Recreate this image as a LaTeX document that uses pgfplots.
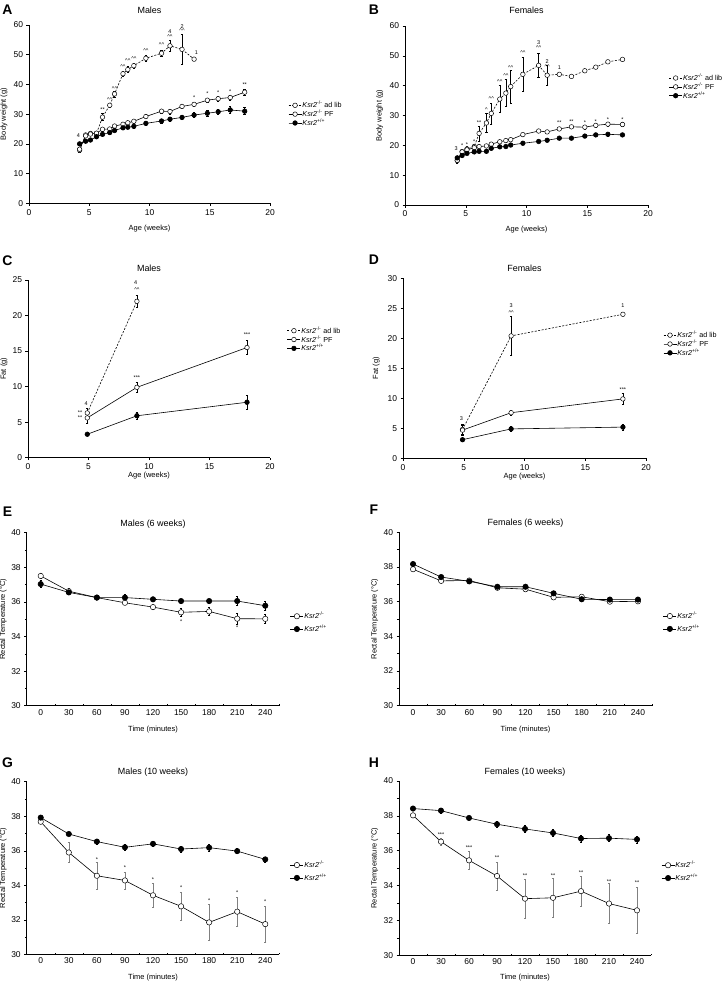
\documentclass[border=0pt]{standalone}
\usepackage{fontspec}
\setmainfont{Liberation Sans}
\usepackage{pgfplots}
\pgfplotsset{compat=1.18}

\newcommand{\ko}{\textit{Ksr2}\textsuperscript{-/-}}
\newcommand{\wt}{\textit{Ksr2}\textsuperscript{+/+}}
\newcommand{\cc}{\textasciicircum\textasciicircum}
\newcommand{\an}[3]{\node[font=\fontsize{5.5}{5.5}\selectfont, inner sep=0pt] at (axis cs:#1,#2) {#3};}

\pgfplotsset{
 panel/.style={scale only axis, axis lines=left, axis line style={-, line width=0.6pt}, clip=false,
   tick style={black, line width=0.5pt}, tick align=outside, major tick length=2.5bp, minor tick length=1.6bp,
   ticklabel style={font=\fontsize{8.5}{9}\selectfont}, /pgf/number format/assume math mode=true,
   label style={font=\fontsize{7.5}{8}\selectfont},
   title style={font=\fontsize{9}{10}\selectfont, at={(0.5,1)}, anchor=base},
   legend style={draw=none, fill=none, font=\fontsize{7.2}{8}\selectfont, inner sep=0pt, row sep=-0.5bp,
     nodes={inner sep=0.6bp}, cells={anchor=west}, anchor=west},
   legend cell align=left,
   legend image code/.code={\draw[mark repeat=2,mark phase=2,##1] plot coordinates {(0bp,0bp) (6.5bp,0bp) (13bp,0bp)};},
   error bars/error bar style={line width=0.5pt, black, solid},
   error bars/error mark options={rotate=90, mark size=1.2bp, line width=0.5pt, solid},
 },
 wpanel/.style={panel, xmin=0, xmax=20, xtick={0,5,...,20}, ymin=0},
 tpanel/.style={panel, xmin=-15, xmax=255, ymin=30, ymax=40,
   xtick={0,30,...,240}, major x tick style={draw=none}, minor xtick={15,45,...,255}, xtick align=inside,
   ytick={30,32,...,40}, minor ytick={31,33,...,39},
   legend style={row sep=3.5bp}},
 adlib/.style={black, line width=0.6pt, dash pattern=on 2bp off 1.5bp, mark=*, mark size=2.3bp, mark options={solid, fill=white, line width=0.5pt}},
 pf/.style={black, line width=0.6pt, solid, mark=*, mark size=2.3bp, mark options={solid, fill=white, line width=0.5pt}},
 wt/.style={black, line width=0.6pt, solid, mark=*, mark size=2.3bp, mark options={solid, fill=black}},
 tko/.style={pf, mark size=2.7bp},
 twt/.style={wt, mark size=2.7bp},
 eb/.style={error bars/.cd, y dir=both, y explicit},
}

\begin{document}
\begin{tikzpicture}
\useasboundingbox (0,0) rectangle (726bp,-983bp);

\tikzset{plab/.style={font=\bfseries\fontsize{14}{14}\selectfont, inner sep=0pt}}
\node[plab] at (7.5bp,-9.5bp) {A};
\node[plab] at (374bp,-9.5bp) {B};
\node[plab] at (7.5bp,-261bp) {C};
\node[plab] at (374bp,-260bp) {D};
\node[plab] at (7.5bp,-511.5bp) {E};
\node[plab] at (374bp,-510bp) {F};
\node[plab] at (7.5bp,-762.5bp) {G};
\node[plab] at (374bp,-762.5bp) {H};

% ---------------- A
\begin{axis}[wpanel, at={(29bp,-203.3bp)}, anchor=south west, width=241bp, height=178.3bp,
  ymax=60, ytick={0,10,...,60}, title={Males}, title style={yshift=6bp},
  xlabel={Age (weeks)}, ylabel={Body weight (g)},
  xlabel style={at={(axis description cs:0.5,-0.14)}, anchor=center},
  ylabel style={at={(axis description cs:-0.104,0.5)}, anchor=center},
  legend style={at={(1.075,0.5)}}]
\addplot[adlib, eb] table[x=x, y=y, y error=e] {
x y e
4.2 17.9 0.8
4.7 23.0 0.5
5.1 23.5 0.5
5.6 23.5 0.5
6.1 29.0 1.2
6.7 33.0 0.8
7.1 36.8 1.0
7.8 43.6 1.0
8.2 45.0 1.0
8.7 46.3 0.8
9.7 48.8 1.0
11.0 50.5 1.0
11.7 53.0 1.8
12.7 51.8 5.0
13.7 48.5 0
};
\addplot[pf, eb] table[x=x, y=y, y error=e] {
x y e
4.2 18.2 0.8
4.7 22.7 0.5
5.1 23.3 0.5
5.6 23.6 0.5
6.1 24.9 0.5
6.7 25.0 0.5
7.1 26.0 0.5
7.8 26.6 0.5
8.2 27.1 0.5
8.7 27.6 0.6
9.7 29.2 0.6
11.0 31.0 0.8
11.7 30.9 0.8
12.7 32.6 0.6
13.7 33.3 0.8
14.8 34.7 0.8
15.7 35.2 0.9
16.7 35.6 0.8
17.9 37.4 0.9
};
\addplot[wt, eb] table[x=x, y=y, y error=e] {
x y e
4.2 20.0 0.6
4.7 20.9 0.5
5.1 21.3 0.4
5.6 22.4 0.4
6.1 23.2 0.4
6.7 23.8 0.4
7.1 24.5 0.4
7.8 25.4 0.4
8.2 25.6 0.4
8.7 25.9 0.5
9.7 26.9 0.6
11.0 27.7 0.6
11.7 28.3 0.6
12.7 28.9 0.7
13.7 29.7 0.8
14.8 30.3 0.9
15.7 30.8 1.0
16.7 31.4 1.1
17.9 31.0 1.2
};
\legend{\ko\ ad lib, \ko\ PF, \wt}
\an{4.1}{22.8}{4}
\an{6.1}{31.5}{**}
\an{6.7}{35}{\cc}
\an{7.1}{38.6}{\cc}
\an{7.8}{46}{\cc}
\an{8.2}{47.9}{\cc}
\an{8.7}{48.7}{\cc}
\an{9.7}{51.4}{\cc}
\an{11.0}{53.3}{\cc}
\an{11.7}{56.1}{\cc}
\an{11.7}{57.7}{4}
\an{12.7}{58.0}{\cc}
\an{12.7}{59.6}{2}
\an{13.9}{50.6}{1}
\an{13.7}{35.5}{*}
\an{14.8}{36.9}{*}
\an{15.7}{37.4}{*}
\an{16.7}{37.7}{*}
\an{17.9}{39.8}{**}
\end{axis}

% ---------------- B
\begin{axis}[wpanel, at={(405bp,-205bp)}, anchor=south west, width=243bp, height=179bp,
  ymax=60, ytick={0,10,...,60}, title={Females}, title style={yshift=7bp},
  xlabel={Age (weeks)}, ylabel={Body weight (g)},
  xlabel style={at={(axis description cs:0.5,-0.14)}, anchor=center},
  ylabel style={at={(axis description cs:-0.104,0.5)}, anchor=center},
  legend style={at={(1.085,0.66)}}]
\addplot[adlib, eb] table[x=x, y=y, y error=e] {
x y e
4.3 14.9 0.8
4.7 17.9 0.8
5.1 18.8 0.8
5.7 19.6 0.8
6.1 24.0 2.5
6.7 27.5 3.2
7.1 30.7 3.5
7.8 35.5 4.5
8.3 37.5 4.5
8.7 39.7 5.5
9.7 43.8 5.8
11.0 46.8 4.0
11.7 43.5 3.3
12.7 43.8 0
13.7 43.1 0
14.8 45.0 0
15.7 46.2 0
16.7 48.0 0
17.9 48.8 0
};
\addplot[pf, eb] table[x=x, y=y, y error=e] {
x y e
4.3 15.0 0.8
4.7 17.8 0.5
5.1 18.5 0.5
5.7 19.2 0.5
6.1 19.6 0.5
6.7 19.8 0.5
7.1 20.4 0.5
7.8 21.2 0.5
8.3 21.6 0.5
8.7 21.9 0.5
9.7 23.6 0.5
11.0 24.8 0.5
11.7 24.5 0.5
12.7 25.5 0.5
13.7 26.2 0.6
14.8 26.1 0.7
15.7 26.7 0.7
16.7 27.1 0.6
17.9 27.0 0.6
};
\addplot[wt, eb] table[x=x, y=y, y error=e] {
x y e
4.3 15.8 0.6
4.7 16.6 0.5
5.1 17.3 0.4
5.7 17.8 0.4
6.1 18.0 0.4
6.7 18.0 0.4
7.1 19.0 0.4
7.8 19.5 0.4
8.3 19.6 0.4
8.7 20.1 0.4
9.7 20.7 0.4
11.0 21.3 0.4
11.7 21.7 0.4
12.7 22.4 0.4
13.7 22.4 0.4
14.8 23.1 0.5
15.7 23.5 0.5
16.7 23.7 0.5
17.9 23.5 0.4
};
\legend{\ko\ ad lib, \ko\ PF, \wt}
\an{4.2}{18.8}{3}
\an{4.7}{19.8}{*}
\an{5.1}{20.4}{*}
\an{5.7}{21.2}{*}
\an{6.1}{27.7}{**}
\an{6.7}{32.0}{\textasciicircum}
\an{7.1}{35.8}{\cc}
\an{7.8}{41.5}{\cc}
\an{8.3}{43.4}{\cc}
\an{8.7}{46.2}{\cc}
\an{9.7}{51.0}{\cc}
\an{11.0}{52.6}{\cc}
\an{11.0}{54.4}{3}
\an{11.7}{46.4}{\cc}
\an{11.7}{48.0}{2}
\an{12.7}{46.0}{1}
\an{12.7}{27.5}{**}
\an{13.7}{27.8}{**}
\an{14.8}{27.6}{*}
\an{15.7}{28.1}{*}
\an{16.7}{28.5}{*}
\an{17.9}{28.6}{*}
\end{axis}

% ---------------- C
\begin{axis}[wpanel, at={(28bp,-457.7bp)}, anchor=south west, width=242bp, height=177.7bp,
  ymax=25, ytick={0,5,...,25}, title={Males}, title style={yshift=2.7bp},
  xlabel={Age (weeks)}, ylabel={Fat (g)},
  xlabel style={at={(axis description cs:0.5,-0.1)}, anchor=center},
  ylabel style={at={(axis description cs:-0.099,0.5)}, anchor=center},
  legend style={at={(1.07,0.665)}}]
\addplot[adlib, eb] table[x=x, y=y, y error=e] {
x y e
4.9 6.3 0.6
9.0 22.0 0.9
};
\addplot[pf, eb] table[x=x, y=y, y error=e] {
x y e
4.9 5.6 0.7
9.0 9.9 0.7
18.1 15.5 1.0
};
\addplot[wt, eb] table[x=x, y=y, y error=e] {
x y e
4.9 3.3 0.2
9.0 5.9 0.5
18.1 7.8 1.0
};
\legend{\ko\ ad lib, \ko\ PF, \wt}
\an{8.9}{24.6}{4}
\an{9.0}{23.7}{\cc}
\an{9.0}{11.3}{***}
\an{18.1}{17.3}{***}
\an{4.8}{7.6}{4}
\an{4.3}{6.3}{**}
\an{4.3}{5.6}{**}
\end{axis}

% ---------------- D
\begin{axis}[wpanel, at={(403bp,-458.3bp)}, anchor=south west, width=243bp, height=180bp,
  ymax=30, ytick={0,5,...,30}, title={Females}, title style={yshift=1.3bp},
  xlabel={Age (weeks)}, ylabel={Fat (g)},
  xlabel style={at={(axis description cs:0.5,-0.1)}, anchor=center},
  ylabel style={at={(axis description cs:-0.11,0.5)}, anchor=center},
  legend style={at={(1.07,0.635)}}]
\addplot[adlib, eb] table[x=x, y=y, y error=e] {
x y e
4.9 4.8 0.8
8.9 20.4 3.3
18.1 24.0 0
};
\addplot[pf, eb] table[x=x, y=y, y error=e] {
x y e
4.9 4.7 0.8
8.9 7.6 0.4
18.1 9.9 0.9
};
\addplot[wt, eb] table[x=x, y=y, y error=e] {
x y e
4.9 3.1 0.3
8.9 4.9 0.4
18.1 5.2 0.5
};
\legend{\ko\ ad lib, \ko\ PF, \wt}
\an{8.9}{25.4}{3}
\an{8.9}{24.3}{\cc}
\an{18.1}{25.4}{1}
\an{18.1}{11.5}{***}
\an{4.8}{6.6}{3}
\end{axis}

% ---------------- E
\begin{axis}[tpanel, at={(26.7bp,-705.7bp)}, anchor=south west, width=252.6bp, height=173bp,
  title={Males (6 weeks)}, title style={yshift=0.7bp},
  xlabel={Time (minutes)}, ylabel={Rectal Temperature (\textdegree C)},
  xlabel style={at={(axis description cs:0.5,-0.137)}, anchor=center},
  ylabel style={at={(axis description cs:-0.093,0.5)}, anchor=center},
  legend style={at={(1.042,0.48)}}]
\addplot[tko, eb] table[x=x, y=y, y error=e] {
x y e
0 37.50 0.15
30 36.62 0.15
60 36.25 0.10
90 35.95 0.10
120 35.70 0.12
150 35.40 0.25
180 35.45 0.25
210 35.03 0.30
240 35.02 0.25
};
\addplot[twt, eb] table[x=x, y=y, y error=e] {
x y e
0 37.03 0.20
30 36.55 0.10
60 36.25 0.10
90 36.25 0.20
120 36.15 0.10
150 36.05 0.12
180 36.05 0.12
210 36.05 0.25
240 35.78 0.25
};
\legend{\ko, \wt}
\an{150}{34.85}{*}
\an{210}{34.5}{*}
\end{axis}

% ---------------- F
\begin{axis}[tpanel, at={(399bp,-705.7bp)}, anchor=south west, width=253bp, height=173.4bp,
  title={Females (6 weeks)}, title style={yshift=0.7bp},
  xlabel={Time (minutes)}, ylabel={Rectal Temperature (\textdegree C)},
  xlabel style={at={(axis description cs:0.5,-0.136)}, anchor=center},
  ylabel style={at={(axis description cs:-0.096,0.5)}, anchor=center},
  legend style={at={(1.043,0.48)}}]
\addplot[tko, eb] table[x=x, y=y, y error=e] {
x y e
0 37.87 0.10
30 37.20 0.10
60 37.22 0.10
90 36.80 0.10
120 36.72 0.10
150 36.25 0.10
180 36.28 0.10
210 36.00 0.10
240 36.02 0.10
};
\addplot[twt, eb] table[x=x, y=y, y error=e] {
x y e
0 38.17 0.10
30 37.42 0.10
60 37.17 0.10
90 36.86 0.10
120 36.86 0.10
150 36.48 0.12
180 36.14 0.12
210 36.12 0.12
240 36.12 0.10
};
\legend{\ko, \wt}
\end{axis}

% ---------------- G
\begin{axis}[tpanel, at={(26.7bp,-954.3bp)}, anchor=south west, width=252.6bp, height=172.6bp,
  title={Males (10 weeks)}, title style={yshift=1.4bp},
  xlabel={Time (minutes)}, ylabel={Rectal Temperature (\textdegree C)},
  xlabel style={at={(axis description cs:0.5,-0.133)}, anchor=center},
  ylabel style={at={(axis description cs:-0.093,0.5)}, anchor=center},
  legend style={at={(1.042,0.48)}}]
\addplot[tko, error bars/error bar style={gray}, eb] table[x=x, y=y, y error=e] {
x y e
0 37.68 0.10
30 35.90 0.57
60 34.55 0.77
90 34.28 0.50
120 33.42 0.68
150 32.78 0.80
180 31.85 1.03
210 32.47 0.82
240 31.75 1.03
};
\addplot[twt, eb] table[x=x, y=y, y error=e] {
x y e
0 37.92 0.10
30 36.97 0.10
60 36.53 0.15
90 36.20 0.15
120 36.40 0.15
150 36.10 0.18
180 36.18 0.20
210 35.98 0.15
240 35.50 0.15
};
\legend{\ko, \wt}
\an{60}{35.5}{*}
\an{90}{35.0}{*}
\an{120}{34.35}{*}
\an{150}{33.85}{*}
\an{180}{33.1}{*}
\an{210}{33.55}{*}
\an{240}{33.05}{*}
\end{axis}

% ---------------- H
\begin{axis}[tpanel, at={(399bp,-955.3bp)}, anchor=south west, width=252bp, height=174.3bp,
  title={Females (10 weeks)}, title style={yshift=0.7bp},
  xlabel={Time (minutes)}, ylabel={Rectal Temperature (\textdegree C)},
  xlabel style={at={(axis description cs:0.5,-0.126)}, anchor=center},
  ylabel style={at={(axis description cs:-0.096,0.5)}, anchor=center},
  legend style={at={(1.04,0.48)}}]
\addplot[tko, error bars/error bar style={gray}, eb] table[x=x, y=y, y error=e] {
x y e
0 38.03 0.10
30 36.52 0.22
60 35.45 0.50
90 34.55 0.80
120 33.25 1.10
150 33.30 1.10
180 33.68 0.88
210 32.97 1.15
240 32.58 1.30
};
\addplot[twt, eb] table[x=x, y=y, y error=e] {
x y e
0 38.42 0.10
30 38.30 0.15
60 37.88 0.10
90 37.52 0.20
120 37.25 0.20
150 37.02 0.20
180 36.70 0.20
210 36.72 0.20
240 36.65 0.20
};
\legend{\ko, \wt}
\an{30}{36.95}{***}
\an{60}{36.2}{***}
\an{90}{35.6}{**}
\an{120}{34.55}{**}
\an{150}{34.6}{**}
\an{180}{34.75}{**}
\an{210}{34.25}{**}
\an{240}{34.15}{**}
\end{axis}
\end{tikzpicture}
\end{document}
